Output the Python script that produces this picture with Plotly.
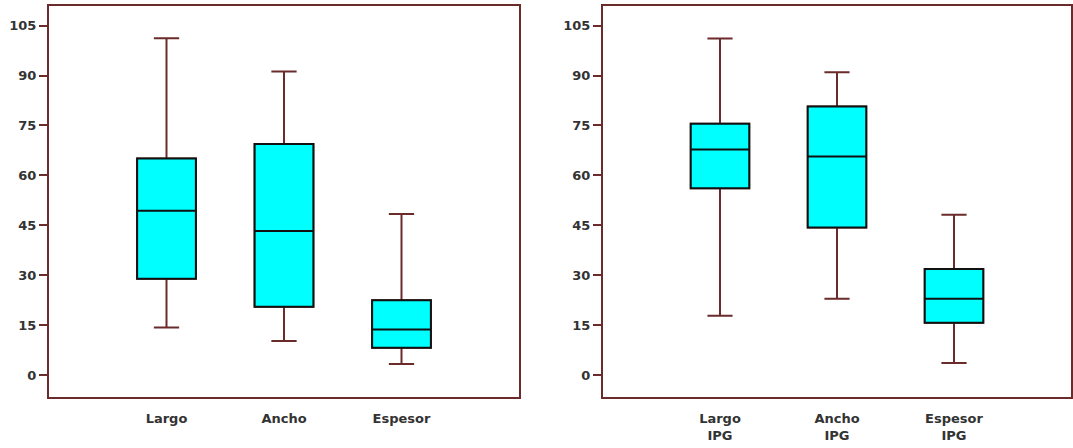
import plotly.graph_objects as go

cats_left = ["Largo", "Ancho", "Espesor"]
cats_right = ["Largo<br>IPG", "Ancho<br>IPG", "Espesor<br>IPG"]

left_low = [14.3, 10.2, 3.3]
left_q1 = [28.9, 20.5, 8.2]
left_med = [49.4, 43.3, 13.7]
left_q3 = [65.1, 69.4, 22.5]
left_high = [101.2, 91.2, 48.4]

right_low = [17.8, 22.9, 3.6]
right_q1 = [56.1, 44.3, 15.7]
right_med = [67.8, 65.7, 22.9]
right_q3 = [75.5, 80.7, 31.9]
right_high = [101.1, 91.0, 48.2]

y_ticks = [0, 15, 30, 45, 60, 75, 90, 105]

MAROON = "#6b2b2b"
CYAN = "#00ffff"
TXT = "#333333"

fig = go.Figure()

def add_panel(cats, low, q1, med, q3, high, xa, ya):
    xs = list(range(len(cats)))
    # whiskers (maroon)
    fig.add_trace(go.Box(
        x=xs, q1=q1, median=med, q3=q3, lowerfence=low, upperfence=high,
        width=0.5, whiskerwidth=0.43, fillcolor=CYAN,
        line=dict(color=MAROON, width=2), boxpoints=False,
        xaxis=xa, yaxis=ya, showlegend=False, hoverinfo="skip"))
    # box body (black outline)
    fig.add_trace(go.Box(
        x=xs, q1=q1, median=med, q3=q3, lowerfence=q1, upperfence=q3,
        width=0.5, whiskerwidth=0, fillcolor=CYAN,
        line=dict(color="#111111", width=2), boxpoints=False,
        xaxis=xa, yaxis=ya, showlegend=False, hoverinfo="skip"))

add_panel(cats_left, left_low, left_q1, left_med, left_q3, left_high, "x", "y")
add_panel(cats_right, right_low, right_q1, right_med, right_q3, right_high, "x2", "y2")

axis_common = dict(showline=True, linecolor=MAROON, linewidth=2, mirror=True,
                   showgrid=False, zeroline=False, automargin=False)
yaxis_common = dict(axis_common, range=[-6.6, 110.9], tickvals=y_ticks,
                    ticks="outside", ticklen=8, tickwidth=2, tickcolor=MAROON,
                    tickfont=dict(family="DejaVu Sans", size=13, color=TXT, weight="bold"))
xtick_font = dict(family="DejaVu Sans", size=13, color=TXT, weight="bold")

fig.update_layout(
    width=1073, height=448,
    margin=dict(l=0, r=0, t=0, b=0, autoexpand=False),
    paper_bgcolor="white", plot_bgcolor="white",
    xaxis=dict(axis_common, domain=[49/1073, 519/1073], range=[-1, 3],
               tickvals=[0, 1, 2], ticktext=cats_left, ticks="",
               tickfont=xtick_font, ticklabelstandoff=8, anchor="y"),
    yaxis=dict(yaxis_common, domain=[51/448, 442/448], anchor="x"),
    xaxis2=dict(axis_common, domain=[603/1073, 1071/1073], range=[-1, 3],
                tickvals=[0, 1, 2], ticktext=cats_right, ticks="",
                tickfont=xtick_font, ticklabelstandoff=8, anchor="y2"),
    yaxis2=dict(yaxis_common, domain=[51/448, 442/448], anchor="x2"),
)

fig.write_html(
    "out.html",
    config={"displayModeBar": False},
    post_script="document.body.style.margin='0';document.body.style.overflow='hidden';",
)
